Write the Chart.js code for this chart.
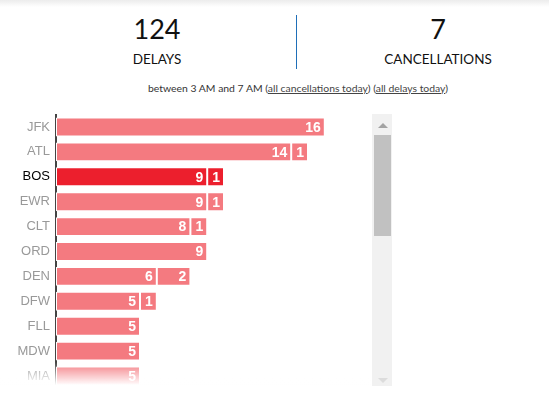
<!DOCTYPE html>
<html lang="en">
<head>
  <meta charset="UTF-8" />
  <title>Delays and cancellations</title>
  <script src="https://cdn.jsdelivr.net/npm/chart.js"></script>
  <style>
    body {
      margin: 0;
      width: 549px;
      height: 393px;
      background: #fff;
      font-family: Lato, "Open Sans", sans-serif;
      position: relative;
      overflow: hidden;
    }
    .topshade {
      position: absolute; left: 0; top: 0; width: 549px; height: 7px;
      background: linear-gradient(#ececec, #fff);
    }
    .stat {
      position: absolute; width: 200px; text-align: center; color: #111;
    }
    .stat .num { font-size: 27px; line-height: 30px; }
    .stat .lbl { font-size: 13.5px; line-height: 16px; margin-top: 7px; }
    .divider {
      position: absolute; left: 296px; top: 15px; width: 1px; height: 54px;
      background: #1f6fb8;
    }
    .sub {
      position: absolute; left: 0; width: 596px; top: 82px; text-align: center;
      font-size: 10.4px; color: #333;
    }
    .sub a { color: #444; text-decoration: underline; }
    #airports {
      position: absolute; left: 0; top: 102px;
    }
    .fade {
      position: absolute; left: 0; top: 362px; width: 372px; height: 31px;
      background: linear-gradient(rgba(255,255,255,0), #fff 75%);
    }
    .track {
      position: absolute; left: 372px; top: 114px; width: 20px; height: 272px;
      background: #f1f1f1;
    }
    .thumb {
      position: absolute; left: 374px; top: 135px; width: 17px; height: 101px;
      background: #c1c1c1;
    }
    .arrow-up {
      position: absolute; left: 378px; top: 123px; width: 0; height: 0;
      border-left: 5px solid transparent; border-right: 5px solid transparent;
      border-bottom: 5px solid #a3a3a3;
    }
    .arrow-down {
      position: absolute; left: 378px; top: 378px; width: 0; height: 0;
      border-left: 5px solid transparent; border-right: 5px solid transparent;
      border-top: 5px solid #dcdcdc;
    }
  </style>
</head>
<body>
  <div class="topshade"></div>
  <div class="stat" style="left:57px; top:14px;">
    <div class="num">124</div>
    <div class="lbl">DELAYS</div>
  </div>
  <div class="divider"></div>
  <div class="stat" style="left:338px; top:14px;">
    <div class="num">7</div>
    <div class="lbl">CANCELLATIONS</div>
  </div>
  <div class="sub">between 3 AM and 7 AM (<a>all cancellations today</a>) (<a>all delays today</a>)</div>

  <canvas id="airports" width="392" height="299"></canvas>
  <div class="fade"></div>
  <div class="track"></div>
  <div class="thumb"></div>
  <div class="arrow-up"></div>
  <div class="arrow-down"></div>

  <script>
    const airports = ['JFK', 'ATL', 'BOS', 'EWR', 'CLT', 'ORD', 'DEN', 'DFW', 'FLL', 'MDW', 'MIA'];
    const delays = [16, 14, 9, 9, 8, 9, 6, 5, 5, 5, 5];
    const cancellations = [0, 1, 1, 1, 1, 0, 2, 1, 0, 0, 0];
    const selected = 'BOS';

    const barColor = airports.map(a => a === selected ? '#ec1f2d' : '#f47a80');

    // white numbers at the end of every segment
    const segmentLabels = {
      id: 'segmentLabels',
      afterDatasetsDraw(chart) {
        const ctx = chart.ctx;
        ctx.save();
        ctx.fillStyle = '#fff';
        ctx.font = 'bold 14px "Liberation Sans", Arial, sans-serif';
        ctx.textAlign = 'right';
        ctx.textBaseline = 'middle';
        chart.data.datasets.forEach((ds, di) => {
          chart.getDatasetMeta(di).data.forEach((bar, i) => {
            const v = ds.data[i];
            if (!v) return;
            ctx.fillText(v, bar.x - 4, bar.y + 1);
          });
        });
        ctx.restore();
      }
    };

    const barStyle = {
      backgroundColor: barColor,
      borderColor: '#fff',
      borderWidth: 1,
      borderSkipped: false,
      categoryPercentage: 1,
      barPercentage: 0.76
    };

    new Chart(document.getElementById('airports'), {
      type: 'bar',
      data: {
        labels: airports,
        datasets: [
          { label: 'Delays', data: delays, ...barStyle },
          { label: 'Cancellations', data: cancellations, ...barStyle }
        ]
      },
      options: {
        indexAxis: 'y',
        responsive: false,
        animation: false,
        layout: { padding: 0 },
        plugins: {
          legend: { display: false },
          tooltip: { enabled: false }
        },
        scales: {
          x: {
            stacked: true,
            min: 0,
            max: 20,
            display: false
          },
          y: {
            stacked: true,
            afterFit: s => { s.width = 56; },
            grid: { display: false, drawTicks: false },
            border: { display: true, color: '#444', width: 2 },
            ticks: {
              padding: 6,
              font: { family: '"Liberation Sans", Arial, sans-serif', size: 13, lineHeight: 1 },
              color: ctx => airports[ctx.index] === selected ? '#000' : '#999'
            }
          }
        }
      },
      plugins: [segmentLabels]
    });
  </script>
</body>
</html>
